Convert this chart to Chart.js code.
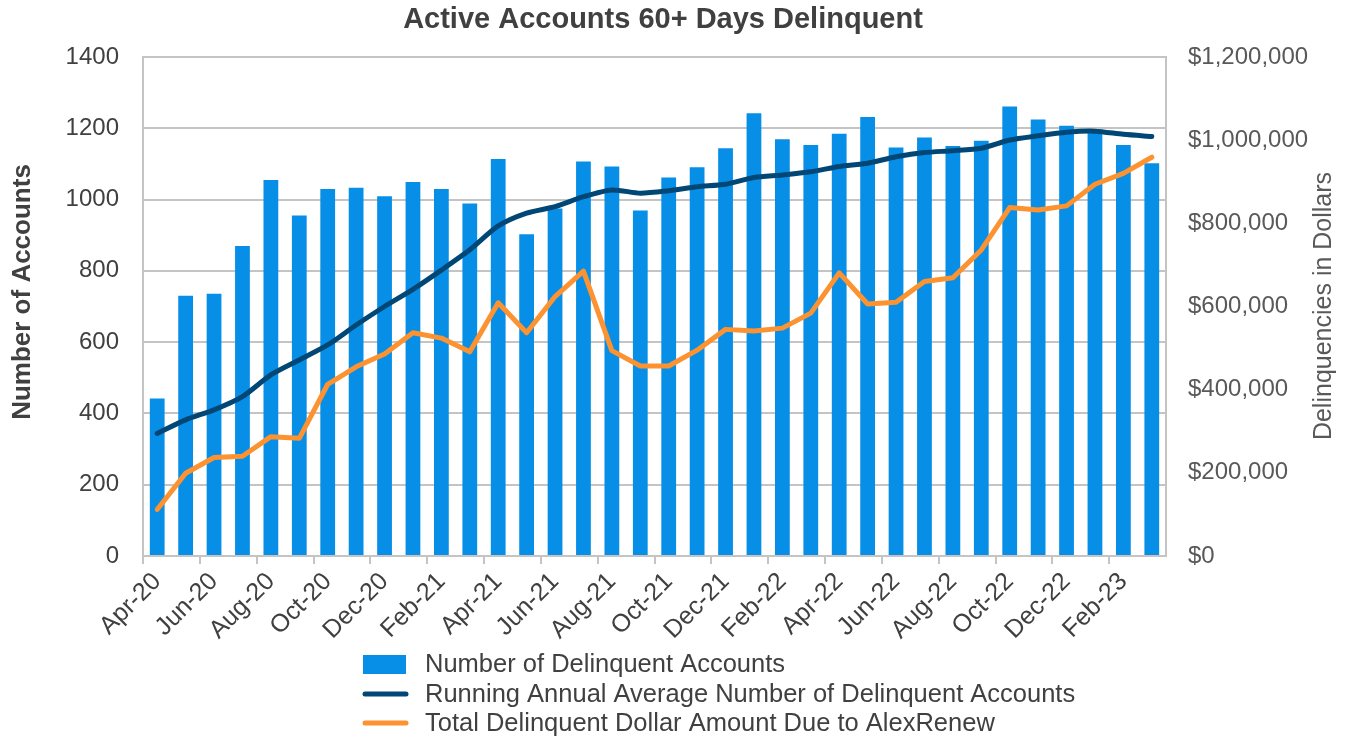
<!DOCTYPE html>
<html>
<head>
<meta charset="utf-8">
<script src="https://cdn.jsdelivr.net/npm/chart.js@4"></script>
<style>
  html, body { margin: 0; padding: 0; background: #fff; }
  #wrap { width: 1354px; height: 742px; }
</style>
</head>
<body>
<div id="wrap"><canvas id="chart" width="1354" height="742"></canvas></div>
<script>
const months = ['Apr-20','May-20','Jun-20','Jul-20','Aug-20','Sep-20','Oct-20','Nov-20','Dec-20','Jan-21','Feb-21','Mar-21',
    'Apr-21','May-21','Jun-21','Jul-21','Aug-21','Sep-21','Oct-21','Nov-21','Dec-21','Jan-22','Feb-22','Mar-22',
    'Apr-22','May-22','Jun-22','Jul-22','Aug-22','Sep-22','Oct-22','Nov-22','Dec-22','Jan-23','Feb-23','Mar-23']

const delinquent_accounts = [442,730,736,870,1055,955,1030,1033,1009,1049,1030,989,
    1114,903,975,1107,1093,969,1062,1091,1144,1242,1169,1153,
    1185,1232,1146,1174,1150,1165,1261,1225,1207,1196,1153,1102]

const running_average = [344,382,410,447,508,550,592,648,700,748,802,859,
    926,962,980,1008,1027,1018,1025,1036,1043,1062,1069,1078,
    1093,1102,1120,1132,1137,1144,1167,1179,1189,1192,1183,1177]

const dollars_due = [112000,199000,237000,240000,287000,283000,413000,455000,486000,537000,524000,491000,
    609000,537000,624000,685000,494000,457000,457000,495000,545000,541000,548000,584000,
    681000,606000,610000,660000,669000,736000,838000,832000,842000,894000,920000,959000]

const series_names = ['Number of Delinquent Accounts',
    'Running Annual Average Number of Delinquent Accounts',
    'Total Delinquent Dollar Amount Due to AlexRenew']

const chart_title = 'Active Accounts 60+ Days Delinquent'
const left_title = 'Number of Accounts'
const right_title = 'Delinquencies in Dollars'

const BLUE = '#078fe8'
const NAVY = '#004776'
const ORANGE = '#fd9230'
const GRID = '#c4c4c4'
const TEXT = '#404040'
const GREY = '#595959'
const FONT = "'Liberation Sans', Arial, sans-serif"

// title, axis titles and legend drawn by hand so they sit where the original has them
const decorations = {
    id: 'decorations',
    afterDraw(chart) {
        const ctx = chart.ctx
        ctx.save()
        ctx.textBaseline = 'middle'

        ctx.fillStyle = TEXT
        ctx.textAlign = 'center'
        ctx.font = 'bold 29px ' + FONT
        ctx.fillText(chart_title, 663, 20)

        ctx.save()
        ctx.translate(23, 292)
        ctx.rotate(-Math.PI / 2)
        ctx.font = 'bold 26px ' + FONT
        ctx.fillText(left_title, 0, 0)
        ctx.restore()

        ctx.save()
        ctx.translate(1324, 306)
        ctx.rotate(-Math.PI / 2)
        ctx.fillStyle = GREY
        ctx.font = '25px ' + FONT
        ctx.fillText(right_title, 0, 0)
        ctx.restore()

        const x0 = 363, x1 = 406, tx = 425
        const rows = [664, 694, 723]
        ctx.font = '25.5px ' + FONT
        ctx.textAlign = 'left'
        rows.forEach((y, i) => {
            if (i == 0) {
                ctx.fillStyle = BLUE
                ctx.fillRect(x0, y - 9, x1 - x0, 19)
            } else {
                ctx.strokeStyle = i == 1 ? NAVY : ORANGE
                ctx.lineWidth = 5
                ctx.lineCap = 'round'
                ctx.beginPath()
                ctx.moveTo(x0 + 2, y)
                ctx.lineTo(x1, y)
                ctx.stroke()
            }
            ctx.fillStyle = TEXT
            ctx.fillText(series_names[i], tx, y + 1)
        })
        ctx.restore()
    }
}

const chart = new Chart(document.getElementById('chart'), {
    type: 'bar',
    data: {
        labels: months,
        datasets: [
            {
                label: series_names[1],
                type: 'line',
                data: running_average,
                yAxisID: 'y',
                borderColor: NAVY,
                borderWidth: 5,
                pointRadius: 0,
                tension: 0.25,
                borderCapStyle: 'round',
                order: 1
            },
            {
                label: series_names[2],
                type: 'line',
                data: dollars_due,
                yAxisID: 'y1',
                borderColor: ORANGE,
                borderWidth: 5,
                pointRadius: 0,
                tension: 0,
                borderCapStyle: 'round',
                borderJoinStyle: 'round',
                order: 2
            },
            {
                label: series_names[0],
                data: delinquent_accounts,
                yAxisID: 'y',
                backgroundColor: BLUE,
                barPercentage: 0.52,
                categoryPercentage: 1,
                order: 3
            }
        ]
    },
    options: {
        responsive: false,
        animation: false,
        layout: { padding: { top: 57 } },
        plugins: {
            legend: { display: false },
            tooltip: { enabled: false },
            title: { display: false }
        },
        scales: {
            x: {
                afterFit(scale) { scale.height = 186 },
                grid: {
                    drawOnChartArea: false,
                    offset: true,
                    tickLength: 8,
                    lineWidth: 2,
                    tickColor: c => c.index % 2 == 0 ? GRID : 'rgba(0,0,0,0)'
                },
                border: { color: GRID, width: 2 },
                ticks: {
                    autoSkip: false,
                    minRotation: 45,
                    maxRotation: 45,
                    color: TEXT,
                    font: { family: FONT, size: 25 },
                    padding: 3,
                    callback: function(v, i) { return i % 2 == 0 ? this.getLabelForValue(v) : '' }
                }
            },
            y: {
                position: 'left',
                min: 0,
                max: 1400,
                afterFit(scale) { scale.width = 143 },
                grid: { color: GRID, lineWidth: 2, drawTicks: false },
                border: { color: GRID, width: 2 },
                ticks: {
                    stepSize: 200,
                    color: TEXT,
                    padding: 24,
                    font: { family: FONT, size: 24 },
                    callback: v => String(v)
                }
            },
            y1: {
                position: 'right',
                min: 0,
                max: 1200000,
                afterFit(scale) { scale.width = 1354 - 1166 },
                grid: { drawOnChartArea: false, drawTicks: false },
                border: { color: GRID, width: 2 },
                ticks: {
                    stepSize: 200000,
                    color: GREY,
                    padding: 22,
                    font: { family: FONT, size: 24 },
                    callback: v => '$' + v.toLocaleString('en-US')
                }
            }
        }
    },
    plugins: [decorations]
})
</script>
</body>
</html>
